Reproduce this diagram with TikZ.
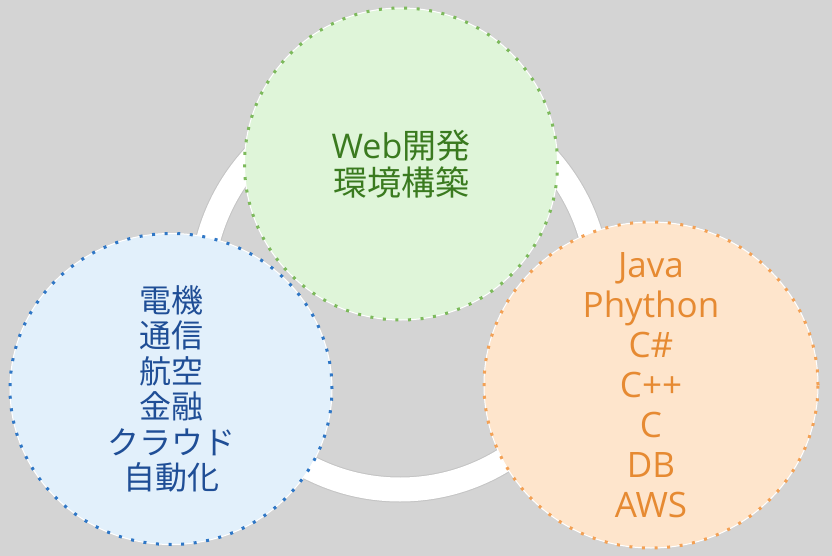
\documentclass[tikz,border=0pt]{standalone}
\usepackage{fontspec}
\setmainfont{Open Sans}
\newfontfamily\jpfont{Noto Sans CJK JP}
\usetikzlibrary{shapes.geometric}
\definecolor{bggray}{HTML}{D4D4D4}
\definecolor{ringedge}{HTML}{C4C4C4}
\definecolor{webfill}{HTML}{DFF5D9}
\definecolor{webdot}{HTML}{7DBA5C}
\definecolor{webtext}{HTML}{3A7A1F}
\definecolor{indfill}{HTML}{E2F0FB}
\definecolor{inddot}{HTML}{2F77C6}
\definecolor{indtext}{HTML}{1F4E96}
\definecolor{langfill}{HTML}{FEE5CC}
\definecolor{langdot}{HTML}{F3A155}
\definecolor{langtext}{HTML}{E68A32}

\begin{document}
\begin{tikzpicture}[x=1pt,y=-1pt]
        \tikzstyle{bubble}=[ellipse, inner sep=0pt, draw=white, line width=1pt]
        \tikzstyle{dots}=[line width=3pt, dash pattern=on 3pt off 9.6pt]
        \tikzstyle{label}=[align=center, inner sep=0pt]
        \useasboundingbox (0,0) rectangle (832,556);
        \fill[bggray] (0,0) rectangle (832,556);

        % white ring behind the three circles
        \draw[ringedge, line width=26pt] (400,291) circle[radius=198.5pt];
        \draw[white, line width=24pt] (400,291) circle[radius=198.5pt];

        \node[bubble, fill=webfill, minimum width=313pt, minimum height=312pt,
              postaction={draw=webdot, dots}] (web) at (401,164) {};
        \node[label, text=webtext, font=\jpfont\fontsize{34}{37}\selectfont]
              (webtxt) at (web.center) {{\rmfamily Web}開発\\環境構築};

        \node[bubble, fill=indfill, minimum width=322pt, minimum height=311pt,
              postaction={draw=inddot, dots}] (ind) at (171,389) {};
        \node[label, text=indtext, font=\jpfont\fontsize{32}{35.5}\selectfont]
              (indtxt) at (ind.center) {電機\\通信\\航空\\金融\\クラウド\\自動化};

        \node[bubble, fill=langfill, minimum width=334pt, minimum height=326pt,
              postaction={draw=langdot, dots}] (lang) at (651,385) {};
        \node[label, text=langtext, font=\fontsize{35}{40}\selectfont]
              (langtxt) at (lang.center) {Java\\Phython\\C\#\\C++\\C\\DB\\AWS};
\end{tikzpicture}
\end{document}
